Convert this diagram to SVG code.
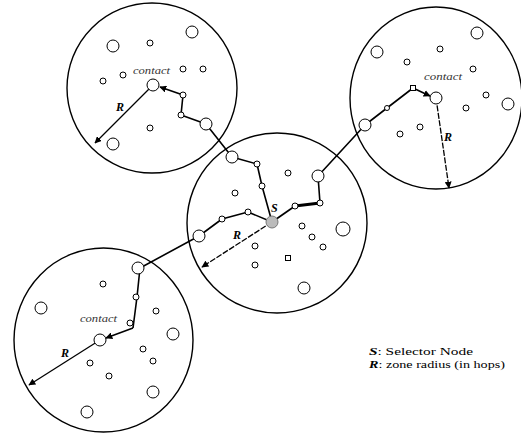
<svg xmlns="http://www.w3.org/2000/svg" width="521" height="435" viewBox="0 0 521 435">
<style>
.zone{fill:none;stroke:#000;stroke-width:1.4}
.n{fill:#fff;stroke:#000;stroke-width:1}
.route{fill:none;stroke:#000;stroke-width:1.6;stroke-linejoin:round}
.rad{fill:none;stroke:#000;stroke-width:1.3}
.lbl{font-family:"Liberation Serif","Times New Roman",serif;font-style:italic;font-size:10px;fill:#333}
.big{font-family:"Liberation Serif","Times New Roman",serif;font-style:italic;font-weight:bold;font-size:12px;fill:#000}
.leg{font-family:"Liberation Serif","Times New Roman",serif;font-size:11px;fill:#000}
</style>
<defs>
<marker id="ah" viewBox="0 0 10 10" refX="9" refY="5" markerWidth="7" markerHeight="7" markerUnits="userSpaceOnUse" orient="auto">
<path d="M0,0 L10,5 L0,10 z" fill="#000"/>
</marker>
</defs>

<g id="zones">
<circle class="zone" cx="152" cy="88" r="85"/>
<ellipse class="zone" cx="436" cy="98" rx="86" ry="91"/>
<circle class="zone" cx="277" cy="223" r="90"/>
<ellipse class="zone" cx="103.5" cy="340" rx="89.5" ry="92"/>
</g>

<g id="connectors">
<polyline class="route" points="272,222 262,186 257,164 232,157 206,124 181,115 183,95"/>
<line class="route" x1="183" y1="95" x2="160" y2="87" marker-end="url(#ah)"/>
<polyline class="route" points="272,222 295,206"/>
<line x1="295" y1="206" x2="320" y2="203" stroke="#000" stroke-width="3"/>
<polyline class="route" points="320,203 318,176 365,125 387,108 413,88"/>
<line class="route" x1="413" y1="88" x2="430" y2="96" marker-end="url(#ah)"/>
<polyline class="route" points="272,222 248,212 222,219 199,236 140,268 137,297 133,328"/>
<line class="route" x1="133" y1="328" x2="106" y2="338" marker-end="url(#ah)"/>
<line class="rad" x1="153" y1="85" x2="95" y2="143" marker-end="url(#ah)"/>
<line class="rad" x1="436" y1="98" x2="449" y2="188" stroke-dasharray="6,1.5" marker-end="url(#ah)"/>
<line class="rad" x1="272" y1="222" x2="202" y2="267" stroke-dasharray="6,1.5" marker-end="url(#ah)"/>
<line class="rad" x1="100" y1="340" x2="29" y2="385" marker-end="url(#ah)"/>
</g>

<g id="zone-topleft-nodes">
<circle class="n" cx="113" cy="46" r="6"/>
<circle class="n" cx="192" cy="32" r="6"/>
<circle class="n" cx="150" cy="43" r="3"/>
<circle class="n" cx="183" cy="69" r="3"/>
<circle class="n" cx="203" cy="69" r="3"/>
<circle class="n" cx="123" cy="75" r="3"/>
<circle class="n" cx="103" cy="81" r="3"/>
<circle class="n" cx="183" cy="95" r="3"/>
<circle class="n" cx="181" cy="115" r="3"/>
<circle class="n" cx="206" cy="124" r="6"/>
<circle class="n" cx="150" cy="128" r="3"/>
<circle class="n" cx="113" cy="144" r="6"/>
<circle class="n" cx="232" cy="157" r="6"/>
</g>
<g id="contact-topleft">
<circle class="n" cx="153" cy="85" r="6"/>
<text class="lbl" x="133" y="74" textLength="37" lengthAdjust="spacingAndGlyphs">contact</text>
<text class="big" x="116" y="111">R</text>
</g>

<g id="zone-topright-nodes">
<circle class="n" cx="477" cy="33" r="6"/>
<circle class="n" cx="377" cy="52" r="6"/>
<circle class="n" cx="440" cy="49" r="3"/>
<circle class="n" cx="407" cy="62" r="3"/>
<circle class="n" cx="473" cy="69" r="3"/>
<circle class="n" cx="486" cy="95" r="3"/>
<circle class="n" cx="508" cy="104" r="6"/>
<circle class="n" cx="466" cy="108" r="3"/>
<circle class="n" cx="420" cy="127" r="3"/>
<circle class="n" cx="400" cy="134" r="3"/>
<circle class="n" cx="365" cy="125" r="6"/>
<circle class="n" cx="387" cy="108" r="2.5"/>
<rect class="n" x="410.5" y="85.5" width="5" height="5"/>
</g>
<g id="contact-topright">
<circle class="n" cx="436" cy="98" r="6"/>
<text class="lbl" x="424" y="80" textLength="38" lengthAdjust="spacingAndGlyphs">contact</text>
<text class="big" x="444" y="141">R</text>
</g>

<g id="zone-center-nodes">
<circle class="n" cx="288" cy="173" r="3"/>
<circle class="n" cx="235" cy="193" r="3"/>
<circle class="n" cx="257" cy="164" r="3"/>
<circle class="n" cx="262" cy="186" r="3"/>
<circle class="n" cx="248" cy="212" r="3"/>
<circle class="n" cx="222" cy="219" r="3"/>
<circle class="n" cx="199" cy="236" r="6"/>
<circle class="n" cx="295" cy="206" r="3"/>
<circle class="n" cx="320" cy="203" r="3"/>
<circle class="n" cx="318" cy="176" r="6"/>
<circle class="n" cx="302" cy="226" r="3"/>
<circle class="n" cx="312" cy="237" r="3"/>
<circle class="n" cx="323" cy="247" r="3"/>
<circle class="n" cx="343" cy="229" r="7"/>
<circle class="n" cx="255" cy="246" r="3"/>
<rect class="n" x="285.5" y="255.5" width="5" height="5"/>
<circle class="n" cx="255" cy="265" r="3"/>
<circle class="n" cx="304" cy="288" r="6"/>
</g>
<g id="selector-S">
<circle cx="272" cy="222" r="6" fill="#bbb" stroke="#777" stroke-width="1"/>
<text class="big" x="271" y="212">S</text>
<text class="big" x="233" y="239">R</text>
</g>

<g id="zone-bottomleft-nodes">
<circle class="n" cx="103" cy="284" r="3"/>
<circle class="n" cx="41" cy="308" r="6"/>
<circle class="n" cx="138" cy="268" r="6"/>
<circle class="n" cx="136" cy="297" r="3"/>
<circle class="n" cx="156" cy="311" r="3"/>
<circle class="n" cx="130" cy="323" r="3"/>
<circle class="n" cx="173" cy="334" r="6"/>
<circle class="n" cx="143" cy="349" r="3"/>
<circle class="n" cx="153" cy="361" r="3"/>
<circle class="n" cx="90" cy="363" r="3"/>
<circle class="n" cx="109" cy="376" r="3"/>
<circle class="n" cx="153" cy="392" r="6"/>
<circle class="n" cx="87" cy="412" r="6"/>
</g>
<g id="contact-bottomleft">
<circle class="n" cx="100" cy="340" r="6"/>
<text class="lbl" x="80" y="322" textLength="37" lengthAdjust="spacingAndGlyphs">contact</text>
<text class="big" x="61" y="357">R</text>
</g>

<g id="legend">
<text class="leg" x="369" y="355" textLength="104" lengthAdjust="spacingAndGlyphs"><tspan font-style="italic" font-weight="bold">S</tspan>: Selector Node</text>
<text class="leg" x="369" y="368" textLength="136" lengthAdjust="spacingAndGlyphs"><tspan font-style="italic" font-weight="bold">R</tspan>: zone radius (in hops)</text>
</g>
</svg>
